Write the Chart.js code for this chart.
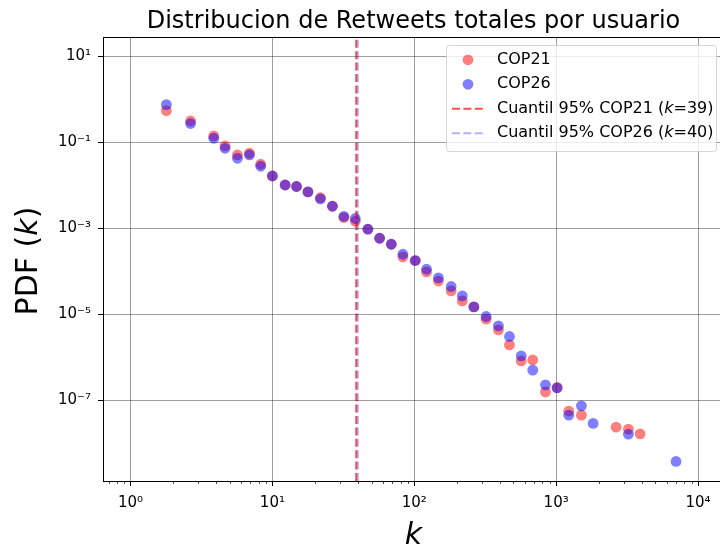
<!DOCTYPE html>
<html>
<head>
<meta charset="utf-8">
<script src="https://cdn.jsdelivr.net/npm/chart.js@4.4.1/dist/chart.umd.min.js"></script>
<style>
  html, body { margin: 0; padding: 0; background: #fff; }
  #wrap { width: 720px; height: 550px; }
</style>
</head>
<body>
<div id="wrap"><canvas id="c" width="720" height="550"></canvas></div>
<script>
// Log-binned degree distribution of total retweets per user
const kCop21 = [1.79, 2.65, 3.86, 4.64, 5.67, 6.89, 8.27, 10.0, 12.3, 14.8, 17.8, 21.8, 26.5, 31.9, 38.4, 47.1, 57.0, 68.9, 83.1, 101.6, 122, 148, 182, 218, 263, 321, 392, 469, 567, 684, 841, 1016, 1227, 1507, 2647, 3230, 3906];
const pdfCop21 = [0.555, 0.318, 0.1426, 0.0834, 0.0515, 0.0564, 0.0313, 0.0167, 0.0103, 0.0095, 0.0071, 0.0052, 0.0033, 0.00180, 0.00148, 0.000964, 0.000594, 0.000431, 0.000219, 0.000180, 9.8e-5, 6.0e-5, 3.54e-5, 2.07e-5, 1.50e-5, 7.78e-6, 4.39e-6, 1.96e-6, 8.3e-7, 8.8e-7, 1.58e-7, 2.0e-7, 5.64e-8, 4.55e-8, 2.39e-8, 2.15e-8, 1.67e-8];

const kCop26 = [1.79, 2.65, 3.86, 4.64, 5.67, 6.89, 8.27, 10.0, 12.3, 14.8, 17.8, 21.8, 26.5, 31.9, 38.4, 47.1, 57.0, 68.9, 83.1, 101.6, 122, 148, 182, 218, 263, 321, 392, 469, 567, 684, 841, 1016, 1227, 1507, 1823, 3230, 7000];
const pdfCop26 = [0.765, 0.277, 0.126, 0.0736, 0.0432, 0.0515, 0.0281, 0.0167, 0.0103, 0.0095, 0.0071, 0.0049, 0.0033, 0.00192, 0.00171, 0.000964, 0.000594, 0.000431, 0.000252, 0.000180, 1.13e-4, 7.1e-5, 4.48e-5, 2.71e-5, 1.50e-5, 8.97e-6, 5.43e-6, 3.08e-6, 1.09e-6, 5.07e-7, 2.31e-7, 1.96e-7, 4.55e-8, 7.48e-8, 2.92e-8, 1.64e-8, 3.81e-9];

// 95th percentile of k for each conference
const q95Cop21 = 39;
const q95Cop26 = 40;

const seriesNames = ['COP21', 'COP26'];
const xTickValues = [1, 10, 100, 1000, 10000];
const yTickValues = [10, 1e-1, 1e-3, 1e-5, 1e-7];

const chartTitle = 'Distribucion de Retweets totales por usuario';

// axis limits (log10 exponents)
const X_MIN = Math.pow(10, -0.194);
const X_MAX = Math.pow(10, 4.155);
const Y_MIN = Math.pow(10, -8.874);
const Y_MAX = Math.pow(10, 1.456);

const RED = 'rgba(255,0,0,0.5)';
const BLUE = 'rgba(0,0,255,0.5)';
const RED_LINE = 'rgba(255,0,0,0.7)';
const BLUE_LINE = 'rgba(0,0,255,0.3)';
const DASH = [8, 3.4];
const FONT = "'DejaVu Sans', 'Liberation Sans', sans-serif";
const MARK_R = 5.4;

Chart.defaults.font.family = FONT;
Chart.defaults.color = '#000';

const SUP = {'-': '\u207B', '0': '\u2070', '1': '\u00B9', '2': '\u00B2', '3': '\u00B3',
  '4': '\u2074', '5': '\u2075', '6': '\u2076', '7': '\u2077', '8': '\u2078', '9': '\u2079'};
function powLabel(v) {
  const e = String(Math.round(Math.log10(v)));
  return '10' + e.split('').map(c => SUP[c]).join('');
}

const toPoints = (xs, ys) => xs.map((x, i) => ({x: x, y: ys[i]}));

// title, frame, minor ticks, axis labels and legend
const decor = {
  id: 'decor',
  afterDraw(chart) {
    const ctx = chart.ctx;
    const a = chart.chartArea;
    const xs = chart.scales.x;
    const midX = (a.left + a.right) / 2 + 2;
    ctx.save();

    // top spine
    ctx.strokeStyle = '#000';
    ctx.lineWidth = 1;
    ctx.beginPath();
    ctx.moveTo(a.left, a.top + 0.5);
    ctx.lineTo(a.right, a.top + 0.5);
    ctx.stroke();

    // minor ticks on the x axis
    ctx.lineWidth = 0.8;
    for (let n = -1; n <= 4; n++) {
      for (let m = 2; m <= 9; m++) {
        const v = m * Math.pow(10, n);
        if (v < X_MIN || v > X_MAX) continue;
        const px = Math.round(xs.getPixelForValue(v)) + 0.5;
        ctx.beginPath();
        ctx.moveTo(px, a.bottom);
        ctx.lineTo(px, a.bottom + 2.8);
        ctx.stroke();
      }
    }

    // title
    ctx.fillStyle = '#000';
    ctx.font = '24px ' + FONT;
    ctx.textAlign = 'center';
    ctx.textBaseline = 'alphabetic';
    ctx.fillText(chartTitle, midX, 28);

    // helper: text made of plain and italic pieces
    function runs(parts, size) {
      let w = 0;
      parts.forEach(p => {
        ctx.font = (p.i ? 'italic ' : '') + size + 'px ' + FONT;
        p.w = ctx.measureText(p.t).width;
        w += p.w;
      });
      return w;
    }
    function drawRuns(parts, size, x, y) {
      let cx = x;
      parts.forEach(p => {
        ctx.font = (p.i ? 'italic ' : '') + size + 'px ' + FONT;
        ctx.fillText(p.t, cx, y);
        cx += p.w;
      });
    }

    // x axis label
    ctx.textAlign = 'left';
    const xl = [{t: 'k', i: true}];
    const xlw = runs(xl, 30);
    drawRuns(xl, 30, midX - xlw / 2, 543.5);

    // y axis label
    const yl = [{t: 'PDF (', i: false}, {t: 'k', i: true}, {t: ')', i: false}];
    const ylw = runs(yl, 30);
    ctx.save();
    ctx.translate(37, 261);
    ctx.rotate(-Math.PI / 2);
    drawRuns(yl, 30, -ylw / 2, 0);
    ctx.restore();

    // legend
    const lx = 446.5, ly = 45.5, lw = 270, lh = 106, r = 3;
    ctx.beginPath();
    ctx.moveTo(lx + r, ly);
    ctx.arcTo(lx + lw, ly, lx + lw, ly + lh, r);
    ctx.arcTo(lx + lw, ly + lh, lx, ly + lh, r);
    ctx.arcTo(lx, ly + lh, lx, ly, r);
    ctx.arcTo(lx, ly, lx + lw, ly, r);
    ctx.closePath();
    ctx.fillStyle = 'rgba(255,255,255,0.8)';
    ctx.fill();
    ctx.strokeStyle = 'rgba(204,204,204,0.8)';
    ctx.lineWidth = 1;
    ctx.stroke();

    const rowY = i => 59.8 + i * 24.5;
    // markers
    [RED, BLUE].forEach((c, i) => {
      ctx.beginPath();
      ctx.arc(468, rowY(i), MARK_R, 0, Math.PI * 2);
      ctx.fillStyle = c;
      ctx.fill();
    });
    // dashed samples
    [RED_LINE, BLUE_LINE].forEach((c, i) => {
      ctx.beginPath();
      ctx.setLineDash(DASH);
      ctx.strokeStyle = c;
      ctx.lineWidth = 2;
      ctx.moveTo(452, rowY(i + 2));
      ctx.lineTo(484, rowY(i + 2));
      ctx.stroke();
      ctx.setLineDash([]);
    });
    // labels
    ctx.fillStyle = '#000';
    ctx.textBaseline = 'middle';
    const labels = [
      [{t: seriesNames[0], i: false}],
      [{t: seriesNames[1], i: false}],
      [{t: 'Cuantil 95% ' + seriesNames[0] + ' (', i: false}, {t: 'k', i: true}, {t: '=' + q95Cop21 + ')', i: false}],
      [{t: 'Cuantil 95% ' + seriesNames[1] + ' (', i: false}, {t: 'k', i: true}, {t: '=' + q95Cop26 + ')', i: false}]
    ];
    labels.forEach((parts, i) => {
      runs(parts, 16);
      drawRuns(parts, 16, 497, rowY(i));
    });

    ctx.restore();
  }
};

const chart = new Chart(document.getElementById('c'), {
  type: 'scatter',
  data: {
    datasets: [
      {
        label: 'Cuantil 95% ' + seriesNames[1],
        data: [{x: q95Cop26, y: Y_MIN}, {x: q95Cop26, y: Y_MAX}],
        showLine: true, pointRadius: 0, borderColor: BLUE_LINE, borderWidth: 2,
        borderDash: DASH, order: 0
      },
      {
        label: 'Cuantil 95% ' + seriesNames[0],
        data: [{x: q95Cop21, y: Y_MIN}, {x: q95Cop21, y: Y_MAX}],
        showLine: true, pointRadius: 0, borderColor: RED_LINE, borderWidth: 2,
        borderDash: DASH, order: 1
      },
      {
        label: seriesNames[1],
        data: toPoints(kCop26, pdfCop26),
        backgroundColor: BLUE, borderWidth: 0, pointRadius: MARK_R, order: 2
      },
      {
        label: seriesNames[0],
        data: toPoints(kCop21, pdfCop21),
        backgroundColor: RED, borderWidth: 0, pointRadius: MARK_R, order: 3
      }
    ]
  },
  options: {
    responsive: false,
    animation: false,
    devicePixelRatio: 1,
    layout: { autoPadding: false, padding: { top: 37, right: 0, left: 0, bottom: 0 } },
    plugins: { legend: { display: false }, title: { display: false }, tooltip: { enabled: false } },
    scales: {
      x: {
        type: 'logarithmic',
        bounds: 'data',
        min: X_MIN, max: X_MAX,
        afterBuildTicks: s => { s.ticks = xTickValues.map(v => ({value: v})); },
        afterFit: s => { s.height = 69; s.paddingLeft = 0; s.paddingRight = 0; },
        ticks: { callback: v => powLabel(v), font: { size: 15 }, color: '#000', padding: 8, maxRotation: 0, autoSkip: false },
        grid: { color: 'rgba(0,0,0,0.38)', lineWidth: 1, tickColor: '#000', tickLength: 5, tickWidth: 1 },
        border: { color: '#000', width: 1 }
      },
      y: {
        type: 'logarithmic',
        bounds: 'data',
        min: Y_MIN, max: Y_MAX,
        afterBuildTicks: s => { s.ticks = yTickValues.map(v => ({value: v})); },
        afterFit: s => { s.width = 103; s.paddingTop = 0; s.paddingBottom = 0; },
        ticks: { callback: v => powLabel(v), font: { size: 15 }, color: '#000', padding: 7, autoSkip: false },
        grid: { color: 'rgba(0,0,0,0.38)', lineWidth: 1, tickColor: '#000', tickLength: 5, tickWidth: 1 },
        border: { color: '#000', width: 1 }
      }
    }
  },
  plugins: [decor]
});
</script>
</body>
</html>
